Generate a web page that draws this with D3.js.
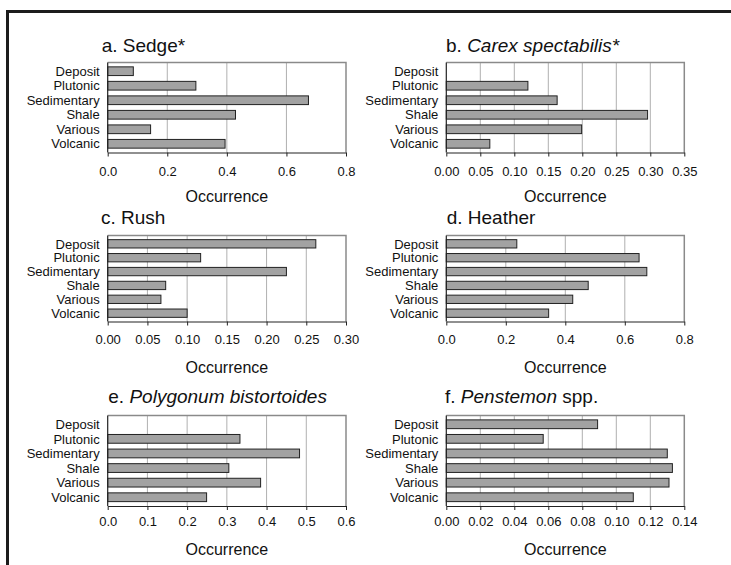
<html lang="en">
<head>
    <meta charset="UTF-8">
    <title>Occurrence by substrate</title>
    <script src="https://cdn.jsdelivr.net/npm/d3@7/dist/d3.min.js" type="text/javascript"></script>
    <style>
        body { margin: 0; background: #fff; }
        text { font-family: Arial, "Liberation Sans", sans-serif; fill: #111; }
    </style>
</head>
<body>
    <svg id="svg"></svg>

    <script>
        var WIDTH = 731;
        var HEIGHT = 565;

        // Data
        var categories = ["Deposit", "Plutonic", "Sedimentary", "Shale", "Various", "Volcanic"];

        var sedge      = [0.086, 0.296, 0.674, 0.429, 0.144, 0.394];
        var carex      = [0,     0.120, 0.163, 0.296, 0.199, 0.064];
        var rush       = [0.262, 0.117, 0.225, 0.073, 0.067, 0.100];
        var heather    = [0.237, 0.648, 0.674, 0.477, 0.425, 0.344];
        var polygonum  = [0,     0.333, 0.483, 0.305, 0.385, 0.249];
        var penstemon  = [0.089, 0.057, 0.130, 0.133, 0.131, 0.110];

        var ticksA = [0, 0.2, 0.4, 0.6, 0.8];
        var ticksB = [0, 0.05, 0.10, 0.15, 0.20, 0.25, 0.30, 0.35];
        var ticksC = [0, 0.05, 0.10, 0.15, 0.20, 0.25, 0.30];
        var ticksD = [0, 0.2, 0.4, 0.6, 0.8];
        var ticksE = [0, 0.1, 0.2, 0.3, 0.4, 0.5, 0.6];
        var ticksF = [0, 0.02, 0.04, 0.06, 0.08, 0.10, 0.12, 0.14];

        var axisTitle = "Occurrence";

        // layout for each panel (position only)
        var cols = [{left: 107.7, right: 346}, {left: 446.3, right: 684.3}];
        var rows = [
            {top: 62.5, bottom: 152.5, title: 51.5, tickPad: 10, label: 202},
            {top: 235.5, bottom: 321.5, title: 224, tickPad: 9.5, label: 373},
            {top: 415.5, bottom: 506, title: 403, tickPad: 7, label: 555}
        ];

        var panels = [
            {values: sedge,     ticks: ticksA, fmt: ".1f", col: 0, row: 0, titleX: 101.7,
             title: [["a. Sedge*", false]]},
            {values: carex,     ticks: ticksB, fmt: ".2f", col: 1, row: 0, titleX: 446,
             title: [["b. ", false], ["Carex spectabilis*", true]]},
            {values: rush,      ticks: ticksC, fmt: ".2f", col: 0, row: 1, titleX: 101,
             title: [["c. Rush", false]]},
            {values: heather,   ticks: ticksD, fmt: ".1f", col: 1, row: 1, titleX: 446.7,
             title: [["d. Heather", false]]},
            {values: polygonum, ticks: ticksE, fmt: ".1f", col: 0, row: 2, titleX: 108.3,
             title: [["e. ", false], ["Polygonum bistortoides", true]]},
            {values: penstemon, ticks: ticksF, fmt: ".2f", col: 1, row: 2, titleX: 445,
             title: [["f. ", false], ["Penstemon", true], [" spp.", false]]}
        ];

        var svg = d3.select("#svg")
                    .attr("width", WIDTH)
                    .attr("height", HEIGHT);

        // outer frame (left and top edges only visible)
        svg.append("path")
           .attr("d", "M7.5," + HEIGHT + "V11.5H" + WIDTH)
           .attr("fill", "none")
           .attr("stroke", "#1c1c1c")
           .attr("stroke-width", 3);

        var buildPanel = function(p){
            var c = cols[p.col];
            var r = rows[p.row];
            var g = svg.append("g");

            var rowsData = categories.map(function(cat, i){
                return {cat: cat, value: p.values[i]};
            }).filter(function(d){ return d.value > 0; });

            var xScale = d3.scaleLinear()
                           .domain([0, p.ticks[p.ticks.length - 1]])
                           .range([c.left, c.right]);

            var yScale = d3.scaleBand()
                           .domain(categories)
                           .range([r.top, r.bottom])
                           .paddingInner(0.4)
                           .paddingOuter(0.3);

            // gridlines
            g.selectAll("line.grid")
             .data(p.ticks.slice(1, -1))
             .enter()
             .append("line")
             .attr("class", "grid")
             .attr("x1", function(d){ return xScale(d); })
             .attr("x2", function(d){ return xScale(d); })
             .attr("y1", r.top)
             .attr("y2", r.bottom)
             .attr("stroke", "#b0b0b0")
             .attr("stroke-width", 1);

            // plot frame top and right
            g.append("path")
             .attr("d", "M" + c.left + "," + r.top + "H" + c.right + "V" + r.bottom)
             .attr("fill", "none")
             .attr("stroke", "#8a8a8a")
             .attr("stroke-width", 1.5);

            // bars
            g.selectAll("rect")
             .data(rowsData)
             .enter()
             .append("rect")
             .attr("x", xScale(0))
             .attr("y", function(d){ return yScale(d.cat); })
             .attr("width", function(d){ return xScale(d.value) - xScale(0); })
             .attr("height", yScale.bandwidth())
             .attr("fill", "#a2a2a2")
             .attr("stroke", "#222")
             .attr("stroke-width", 1);

            // x axis
            var xAxis = d3.axisBottom()
                          .scale(xScale)
                          .tickValues(p.ticks)
                          .tickFormat(d3.format(p.fmt))
                          .tickSizeInner(4)
                          .tickSizeOuter(0)
                          .tickPadding(r.tickPad);

            var ax = g.append("g")
                      .attr("transform", "translate(0," + r.bottom + ")")
                      .call(xAxis);
            ax.select(".domain").attr("stroke", "#222").attr("stroke-width", 1.2);
            ax.selectAll(".tick line").attr("stroke", "#222");
            ax.selectAll("text")
              .attr("font-size", 13)
              .attr("font-family", "Arial, 'Liberation Sans', sans-serif")
              .attr("fill", "#111");

            // y axis line
            g.append("line")
             .attr("x1", c.left)
             .attr("x2", c.left)
             .attr("y1", r.top)
             .attr("y2", r.bottom)
             .attr("stroke", "#222")
             .attr("stroke-width", 1.2);

            // category labels
            g.selectAll("text.cat")
             .data(categories)
             .enter()
             .append("text")
             .attr("class", "cat")
             .attr("x", c.left - 8)
             .attr("y", function(d){ return yScale(d) + yScale.bandwidth() / 2; })
             .attr("dy", "0.36em")
             .attr("text-anchor", "end")
             .attr("font-size", 13)
             .text(function(d){ return d; });

            // panel title
            var t = g.append("text")
                     .attr("x", p.titleX)
                     .attr("y", r.title)
                     .attr("font-size", 19);
            p.title.forEach(function(part){
                t.append("tspan")
                 .attr("font-style", part[1] ? "italic" : "normal")
                 .text(part[0]);
            });

            // axis title
            g.append("text")
             .attr("x", (c.left + c.right) / 2)
             .attr("y", r.label)
             .attr("text-anchor", "middle")
             .attr("font-size", 16)
             .text(axisTitle);
        };

        panels.forEach(buildPanel);
    </script>
</body>
</html>
